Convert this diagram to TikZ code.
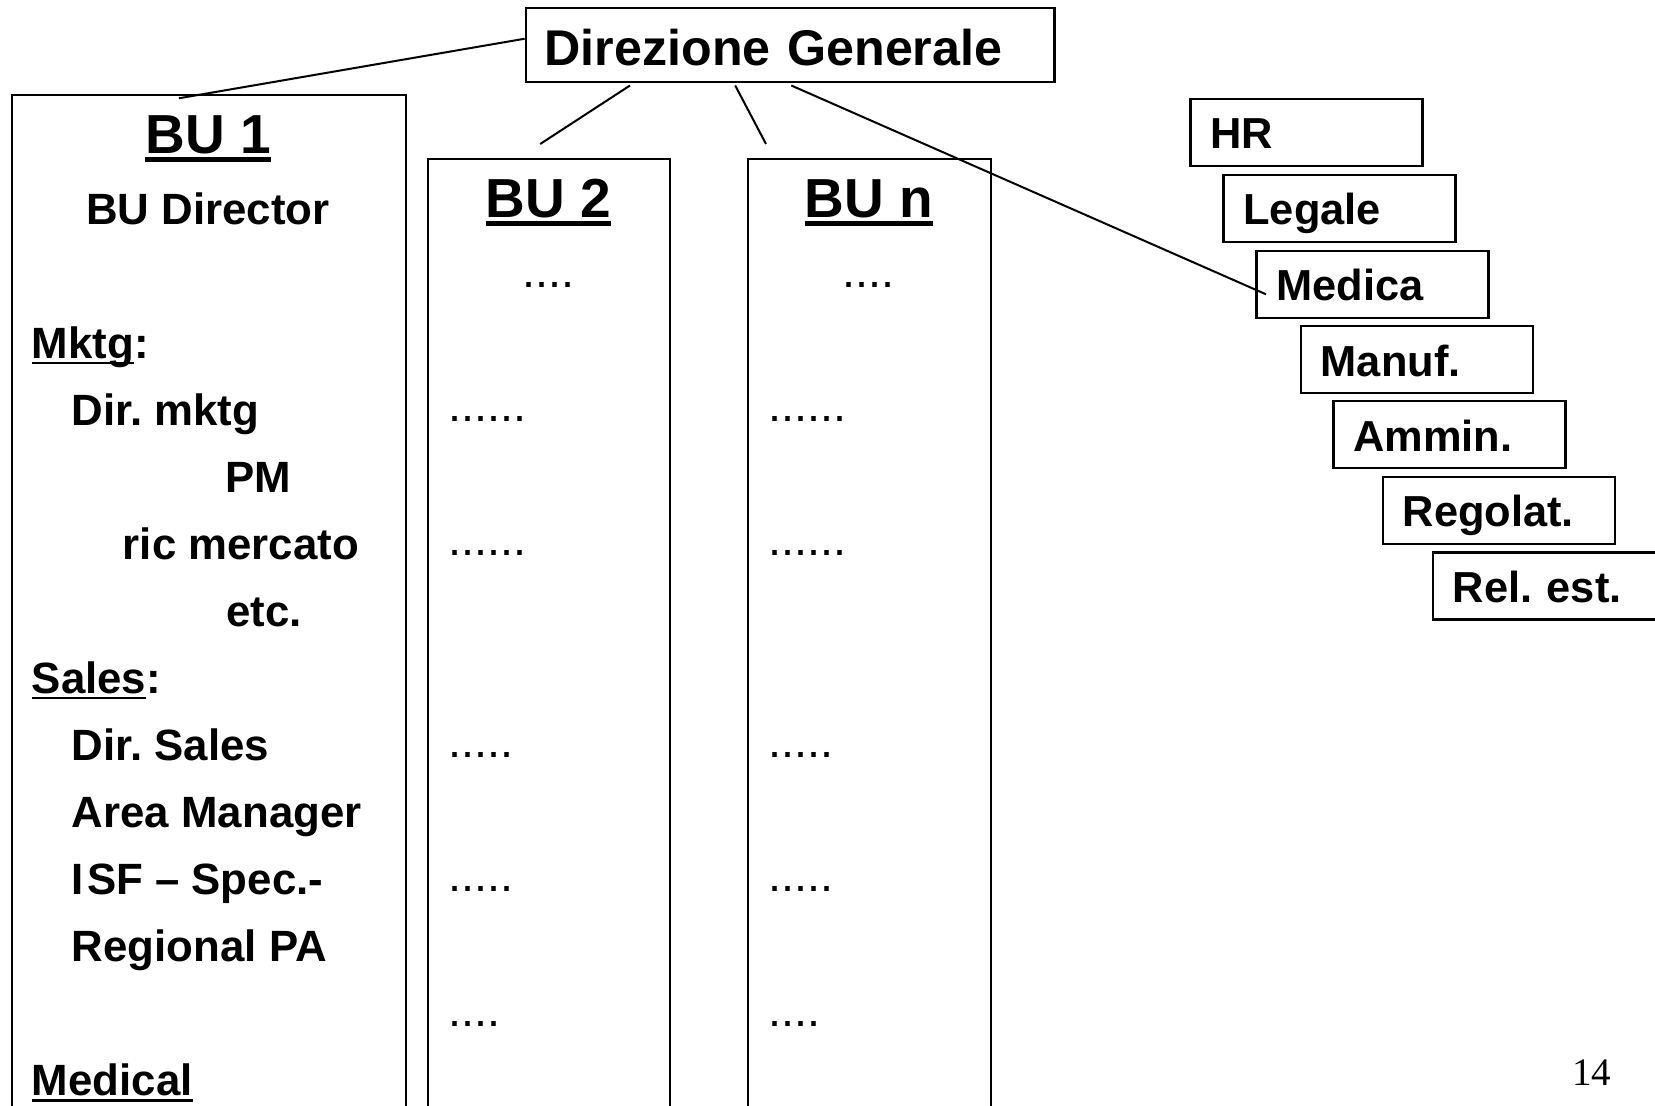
\documentclass[tikz,border=0pt]{standalone}
\usepackage{fontspec}
\setmainfont{Liberation Sans}
\newfontfamily\pagefont{Liberation Serif}
% underlined word: text, depth of rule bottom below baseline, rule thickness
\newsavebox\ulbox
\newcommand\ulword[3]{\sbox\ulbox{#1}\rlap{\rule[-#2]{\wd\ulbox}{#3}}\usebox\ulbox}
\frenchspacing
\begin{document}
\begin{tikzpicture}[x=0.5pt,y=-0.5pt,
  dgbox/.style={draw, line width=1.1pt, anchor=north west,
    minimum width=264.4pt, minimum height=36.85pt,
    text width=245.4pt, align=left, inner xsep=9.5pt, inner ysep=0pt,
    text height=20.5pt, text depth=0pt,
    font=\bfseries\fontsize{25.1}{28}\selectfont},
  colbox/.style={draw, line width=1pt, anchor=north west, inner sep=0pt},
  staffbox/.style={draw, line width=1.1pt, anchor=north west,
    minimum width=116pt, minimum height=33.5pt,
    text width=96pt, align=left, inner xsep=10pt, inner ysep=0pt,
    text height=16.5pt, text depth=0pt,
    font=\bfseries\fontsize{21.7}{24}\selectfont},
  head/.style={inner sep=0pt, anchor=base, font=\bfseries\fontsize{27.5}{30}\selectfont},
  role/.style={inner sep=0pt, anchor=base west, font=\bfseries\fontsize{21.9}{24}\selectfont},
  rolec/.style={role, anchor=base},
  filler/.style={inner sep=0pt, anchor=base west, font=\fontsize{23.4}{26}\selectfont},
  fillerc/.style={filler, anchor=base},
  link/.style={line width=1pt}
]
\useasboundingbox (0,0) rectangle (1655,1106);
\fill[white] (0,0) rectangle (1655,1106);
\clip (0,0) rectangle (1655,1106);

% head office
\node[dgbox] (dg) at (524.6,7.3) {Direzione Generale};

% business unit columns (running past the lower edge)
\node[colbox, minimum width=197pt, minimum height=522.9pt] (bu1) at (11,94.3) {};
\node[colbox, minimum width=120.95pt, minimum height=490.9pt] (bu2) at (427.4,158.3) {};
\node[colbox, minimum width=121.4pt, minimum height=490.9pt] (bun) at (747.3,158.3) {};

% BU 1 contents
\node[head] (h1) at (208,154) {\ulword{BU 1}{4.2pt}{2.7pt}};
\node[rolec] (r0) at (208,224.5) {BU Director};
\node[role] (r1) at (31.5,358.5) {\ulword{Mktg}{3pt}{1.2pt}:};
\node[role] (r2) at (71.5,425.5) {Dir. mktg};
\node[role] (r3) at (225,492.8) {PM};
\node[role] (r4) at (122.5,560) {ric mercato};
\node[role] (r5) at (226,626.8) {etc.};
\node[role] (r6) at (31.5,693.5) {\ulword{Sales}{3pt}{1.2pt}:};
\node[role] (r7) at (71.5,760.5) {Dir. Sales};
\node[role] (r8) at (71.5,827.2) {Area Manager};
\node[role] (r9) at (71.5,894.5) {I\kern1.5pt SF – Spec.-};
\node[role] (r10) at (71.5,961.2) {Regional PA};
\node[role] (r11) at (31.5,1095.5) {\ulword{Medical}{3pt}{1.2pt}};

% BU 2 contents
\node[head] (h2) at (548.3,218) {\ulword{BU 2}{4.2pt}{2.7pt}};
\node[fillerc] (a0) at (548.3,288) {....};
\node[filler] (a1) at (448,422) {......};
\node[filler] (a2) at (448,556) {......};
\node[filler] (a3) at (448,757) {.....};
\node[filler] (a4) at (448,891) {.....};
\node[filler] (a5) at (448,1026) {....};

% BU n contents
\node[head] (hn) at (868.7,218) {\ulword{BU n}{4.2pt}{2.7pt}};
\node[fillerc] (b0) at (868.7,288) {....};
\node[filler] (b1) at (768,422) {......};
\node[filler] (b2) at (768,556) {......};
\node[filler] (b3) at (768,757) {.....};
\node[filler] (b4) at (768,891) {.....};
\node[filler] (b5) at (768,1026) {....};

% staff functions, stepped
\node[staffbox] (hr) at (1189.3,97.9) {HR};
\node[staffbox] (leg) at (1222.3,173.9) {Legale};
\node[staffbox] (med) at (1255.3,249.6) {Medica};
\node[staffbox] (man) at (1299.7,325) {Manuf.};
\node[staffbox] (amm) at (1332.3,400) {Ammin.};
\node[staffbox] (reg) at (1381.7,475.7) {Regolat.};
\node[staffbox] (rel) at (1431.7,551.4) {Rel. est.};

% page number
\node[inner sep=0pt, anchor=base, font=\pagefont\fontsize{19.5}{22}\selectfont] (pg) at (1591.7,1085) {14};

% reporting lines
\coordinate (bu2up) at (540.2,144);
\coordinate (bunup) at (766,144);
\draw[link] ([yshift=3.25pt]dg.west) -- ([xshift=83.95pt,yshift=-2pt]bu1.north west);
\draw[link] ([xshift=52.7pt,yshift=-1.15pt]dg.south west) -- (bu2up);
\draw[link] ([xshift=105.3pt,yshift=-1.15pt]dg.south west) -- (bunup);
\draw[link] ([xshift=133.35pt,yshift=-1.15pt]dg.south west) -- ([xshift=5.35pt,yshift=-22.35pt]med.north west);
\end{tikzpicture}
\end{document}
